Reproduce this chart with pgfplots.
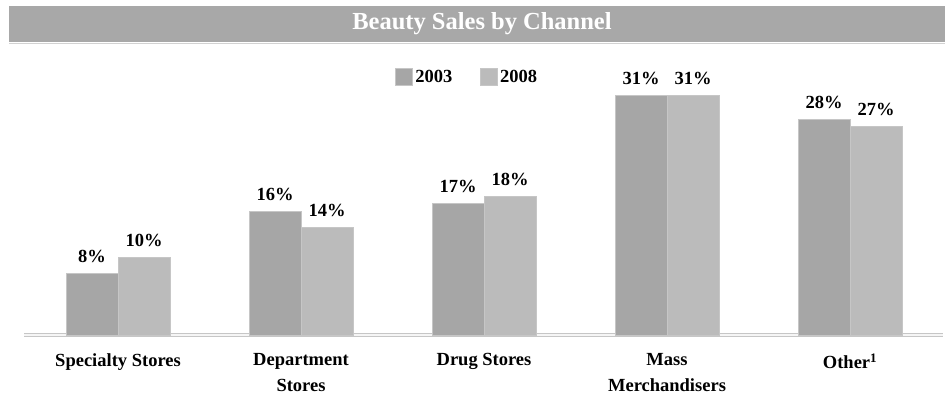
\documentclass[border=0pt]{standalone}
\usepackage{pgfplots}
\pgfplotsset{compat=1.18}
\usepackage{fontspec}
\setmainfont{Liberation Serif}
\definecolor{barA}{HTML}{A6A6A6}
\definecolor{barB}{HTML}{BBBBBB}
\definecolor{barEdge}{HTML}{C6C6C6}
\definecolor{titlebar}{HTML}{A8A8A8}
\begin{document}
\begin{tikzpicture}[x=1pt,y=1pt]
\useasboundingbox (0,0) rectangle (946,400);
\fill[titlebar] (9,358) rectangle (945,394);
\fill[gray!35] (9,355.5) rectangle (945,357);
\node[text=white, anchor=base, font=\fontsize{24.5}{28}\selectfont\bfseries] at (482,370) {Beauty Sales by Channel};
\begin{axis}[
  at={(24pt,65pt)}, anchor=south west,
  scale only axis, width=919pt, height=270pt,
  ybar=0pt, bar width=52pt,
  xmin=-0.5137, xmax=4.508, ymin=0, ymax=35,
  hide y axis, axis x line*=bottom,
  x axis line style={draw=barEdge, line width=0.8pt, double=gray!8, double distance=1.6pt, -},
  xtick=data,
  xticklabels={Specialty Stores,{Department\\Stores},Drug Stores,{Mass\\Merchandisers},{Other\textsuperscript{1}}},
  major tick length=0pt,
  /pgf/number format/assume math mode=true,
  xticklabel style={align=center, anchor=north, yshift=-15pt, font=\fontsize{18.5}{25.5}\selectfont\bfseries},
  nodes near coords={\pgfmathprintnumber{\pgfplotspointmeta}\%},
  every node near coord/.append style={font=\fontsize{18.5}{20}\selectfont\bfseries, anchor=south, yshift=7pt},
  legend columns=2,
  legend style={at={(rel axis cs:0.404,0.957)}, anchor=west, draw=none, fill=none,
    font=\fontsize{18.5}{20}\selectfont\bfseries, inner sep=0pt,
    /tikz/every even column/.append style={column sep=26pt}},
  legend image code/.code={\draw[#1, draw=barEdge, line width=0.8pt] (0pt,-8.5pt) rectangle (17pt,8.5pt);},
  clip=false,
]
\addplot[fill=barA, draw=barEdge, line width=0.8pt] coordinates {(0,8) (1,16) (2,17) (3,31) (4,28)};
\addplot[fill=barB, draw=barEdge, line width=0.8pt] coordinates {(0,10) (1,14) (2,18) (3,31) (4,27)};
\legend{2003,2008}
\end{axis}
\end{tikzpicture}
\end{document}
